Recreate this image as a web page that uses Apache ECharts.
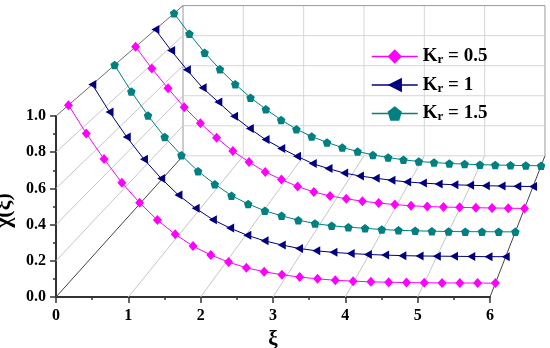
<!DOCTYPE html>
<html><head><meta charset="utf-8">
<script src="https://cdn.jsdelivr.net/npm/echarts@6/dist/echarts.min.js"></script>
<style>html,body{margin:0;padding:0;background:#fff}#c{width:550px;height:348px}</style>
</head><body><div id="c"></div>
<script>
// ---- data ----
const xi = [0,0.25,0.5,0.75,1,1.25,1.5,1.75,2,2.25,2.5,2.75,3,3.25,3.5,3.75,4,4.25,4.5,4.75,5,5.25,5.5,5.75,6];
// front group (layers 0,1,2)
const chiKr05a = [1.000,0.841,0.697,0.564,0.451,0.354,0.274,0.208,0.158,0.118,0.086,0.064,0.047,0.034,0.024,0.016,0.011,0.007,0.005,0.003,0.002,0.001,0.001,0.000,0.000];
const chiKr1a  = [1.000,0.840,0.695,0.566,0.454,0.358,0.281,0.215,0.166,0.124,0.092,0.068,0.048,0.034,0.025,0.018,0.013,0.009,0.006,0.004,0.003,0.002,0.001,0.000,0.000];
const chiKr15a = [1.000,0.841,0.697,0.568,0.459,0.363,0.286,0.217,0.167,0.126,0.096,0.070,0.050,0.036,0.028,0.021,0.014,0.009,0.006,0.004,0.002,0.001,0.001,0.000,0.000];
// back group (layers 3,4,5)
const chiKr05b = [1.000,0.866,0.743,0.626,0.527,0.437,0.355,0.287,0.226,0.179,0.136,0.102,0.078,0.060,0.045,0.034,0.024,0.017,0.012,0.009,0.007,0.005,0.003,0.002,0.000];
const chiKr1b  = [1.000,0.867,0.744,0.629,0.538,0.447,0.369,0.299,0.243,0.193,0.146,0.114,0.086,0.067,0.053,0.040,0.029,0.022,0.016,0.011,0.008,0.005,0.003,0.001,0.000];
const chiKr15b = [1.000,0.866,0.742,0.633,0.535,0.447,0.371,0.301,0.240,0.192,0.153,0.120,0.094,0.071,0.054,0.039,0.028,0.021,0.015,0.011,0.007,0.005,0.003,0.001,0.000];
const xTicks = [0,1,2,3,4,5,6];
const yTicks = [0,0.2,0.4,0.6,0.8,1.0];
const krLabels = ['0.5','1','1.5'];

// ---- pseudo-3D projection (front plane = the 2D axes) ----
const BX = 1.756, SX = -0.166, BY = 0.78, SY = -0.17, K = 0.2;
function depthT(z){ return (1 - 1/(1+K*z)) / (1 - 1/(1+K)); }
function proj(x, y, z){ const t = depthT(z); return [x + t*(BX + SX*x), y + t*(BY + SY*y)]; }

const series = [];
function seg(a, b, color, w){
  series.push({type:'line', xAxisIndex:1, yAxisIndex:1, data:[a,b], symbol:'none', silent:true, clip:false, z:1,
    lineStyle:{color:color, width:w||1}, animation:false, legendHoverLink:false});
}
// back wall
xTicks.forEach(x => seg(proj(x,0,1), proj(x,1,1), (x===0||x===6)?'#9a9a9a':'#d6d6d6'));
yTicks.forEach(y => seg(proj(0,y,1), proj(6,y,1), (y===1)?'#9a9a9a':'#d6d6d6'));
// left wall
yTicks.forEach(y => { if (y>0) seg(proj(0,y,0), proj(0,y,1), y===1?'#6e6e6e':'#c6c6c6'); });
// floor
xTicks.forEach(x => seg(proj(x,0,0), proj(x,0,1), (x===0||x===6)?'#444':'#c6c6c6'));

const PENT = 'path://M0,-1L0.951,-0.309L0.588,0.809L-0.588,0.809L-0.951,-0.309Z';
const styles = [
  {color:'#ff00ff', symbol:'diamond', size:[9,10], rotate:0},
  {color:'#000080', symbol:'triangle', size:[9,8], rotate:90},
  {color:'#008080', symbol:PENT, size:8.5, rotate:0}
];
const curves = [
  {vals:chiKr15b, layer:5, s:2},
  {vals:chiKr1b,  layer:4, s:1},
  {vals:chiKr05b, layer:3, s:0},
  {vals:chiKr15a, layer:2, s:2},
  {vals:chiKr1a,  layer:1, s:1},
  {vals:chiKr05a, layer:0, s:0}
];
curves.forEach(c => {
  const st = styles[c.s];
  const z = (2*c.layer+1)/12;
  series.push({type:'line', xAxisIndex:1, yAxisIndex:1, name:'Kr = '+krLabels[c.s],
    data: xi.map((x,i)=>proj(x, c.vals[i], z)),
    symbol: st.symbol, symbolSize: st.size, symbolRotate: st.rotate, showAllSymbol:true,
    lineStyle:{color:st.color, width:1}, itemStyle:{color:st.color}, clip:false, z:3, animation:false});
});

const font = 'Liberation Serif';
const UNIT = 434/6; // px per unit on the front x axis
const chart = echarts.init(document.getElementById('c'), null, {renderer:'canvas'});
chart.setOption({
  animation:false,
  backgroundColor:'#fff',
  grid:[
    {left:56, right:60, top:116, bottom:51, containLabel:false, outerBoundsMode:'none'},
    {left:56, width:UNIT*7, top:116, bottom:51, containLabel:false, outerBoundsMode:'none'}
  ],
  xAxis:[{type:'value', gridIndex:0, min:0, max:6, interval:1,
    name:'ξ', nameLocation:'middle', nameGap:31,
    nameTextStyle:{fontFamily:font, fontWeight:'bold', fontSize:21, color:'#000'},
    axisLine:{show:true, onZero:false, lineStyle:{color:'#333', width:2}},
    axisTick:{show:true, length:6, lineStyle:{color:'#333', width:1.5}},
    minorTick:{show:true, splitNumber:2, length:3, lineStyle:{color:'#333', width:1.5}},
    splitLine:{show:false},
    axisLabel:{fontFamily:font, fontWeight:'bold', fontSize:16, color:'#000', margin:11}},
    {type:'value', gridIndex:1, min:0, max:7, show:false}],
  yAxis:[{type:'value', gridIndex:0, min:0, max:1, interval:0.2,
    name:'χ(ξ)', nameLocation:'middle', nameGap:33, nameRotate:90,
    nameTextStyle:{fontFamily:font, fontWeight:'bold', fontSize:22, color:'#000', padding:[0,0,0,-8]},
    axisLine:{show:true, onZero:false, lineStyle:{color:'#333', width:2}},
    axisTick:{show:true, length:6, lineStyle:{color:'#333', width:1.5}},
    minorTick:{show:true, splitNumber:2, length:3, lineStyle:{color:'#333', width:1.5}},
    splitLine:{show:false},
    axisLabel:{fontFamily:font, fontWeight:'bold', fontSize:16, color:'#000', margin:10,
      formatter: v => v.toFixed(1)}},
    {type:'value', gridIndex:1, min:0, max:1, show:false}],
  legend:{show:true, orient:'vertical', left:366, top:42, itemWidth:46, itemHeight:18, itemGap:9,
    data: krLabels.map(k => 'Kr = '+k),
    formatter: name => '{k|K}{s|r}{k| = ' + name.split('= ')[1] + '}',
    textStyle:{fontFamily:font, fontWeight:'bold', fontSize:19, color:'#000',
      rich:{k:{fontFamily:font, fontWeight:'bold', fontSize:19, lineHeight:20},
            s:{fontFamily:font, fontWeight:'bold', fontSize:13, lineHeight:8, verticalAlign:'bottom'}}},
    lineStyle:{width:1.5}},
  series: series
});
</script></body></html>
